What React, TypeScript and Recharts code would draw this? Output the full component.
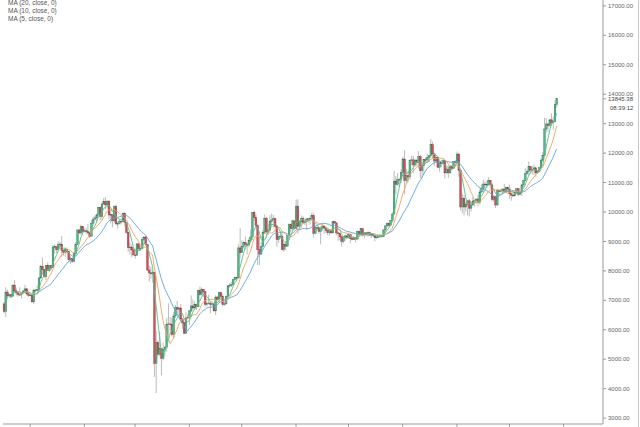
import { ComposedChart, Bar, Line, XAxis, YAxis, ReferenceLine } from 'recharts'

// daily candles, 17 Dec 2019 .. 28 Oct 2020
const startDay = Date.UTC(2019, 11, 17)
const slotCount = 343 // candles plus empty space on the right

const opens = [
  6880, 6620, 7280, 7150, 7190, 7140, 7520, 7320, 7250, 7200, 7200, 7250, 7320, 7390, 7220,
  7170, 7180, 6950, 7340, 7350, 7360, 7760, 8160, 8040, 7810, 8190, 8020, 8180, 8110, 8810, 8820, 8720, 8900, 8910, 8700, 8630, 8730, 8660, 8380, 8430, 8330, 8590, 8900, 9390, 9290, 9500,
  9340, 9380, 9330, 9290, 9180, 9620, 9760, 9800, 9900, 10160, 9850, 10270, 10350, 10240, 10370, 9900, 9910, 9700, 10180, 9600, 9610, 9690, 9670, 9960, 9650, 9310, 8790, 8810, 8710,
  8540, 8530, 8920, 8760, 8760, 9070, 9150, 8900, 8030, 7930, 7900, 7950, 4860, 5560, 5170, 5360, 5030, 5330, 5400, 6180, 6200, 6190, 5830, 6470, 6750, 6700, 6740, 6370, 6250, 5880, 6400,
  6420, 6640, 6810, 6740, 6860, 6780, 7330, 7200, 7370, 7290, 6860, 6890, 6910, 6860, 6880, 6640, 7110, 7040, 7260, 7130, 6860, 6880, 7130, 7490, 7510, 7540, 7700, 7780, 7760, 8780,
  8620, 8830, 8970, 8900, 8880, 9030, 9150, 9990, 9810, 9540, 8720, 8570, 8820, 9310, 9790, 9320, 9380, 9670, 9730, 9770, 9510, 9060, 9170, 9180, 8720, 8900, 8840, 9200, 9570, 9430, 9700,
  9450, 10200, 9520, 9670, 9790, 9630, 9670, 9760, 9780, 9770, 9880, 9280, 9470, 9470, 9340, 9430, 9520, 9460, 9380, 9300, 9360, 9290, 9680, 9630, 9290, 9260, 9160, 9000, 9120, 9190,
  9140, 9240, 9090, 9060, 9130, 9080, 9340, 9250, 9430, 9230, 9290, 9240, 9300, 9240, 9250, 9190, 9130, 9150, 9170, 9210, 9160, 9390, 9530, 9610, 9550, 9710, 9930, 11050, 10940, 11100, 11110,
  11350, 11800, 11070, 11230, 11190, 11740, 11770, 11600, 11760, 11680, 11880, 11400, 11570, 11780, 11770, 11860, 11910, 12290, 11970, 11730, 11860, 11520, 11680, 11650, 11750, 11330, 11460, 11330, 11540, 11480, 11710,
  11680, 11970, 11420, 10170, 10470, 10170, 10260, 10380, 10130, 10240, 10370, 10400, 10440, 10330, 10680, 10790, 10950, 10940, 10930, 11080, 10920, 10420, 10530, 10240, 10740, 10690, 10730, 10780, 10700, 10840,
  10780, 10620, 10570, 10550, 10670, 10790, 10600, 10670, 10920, 11060, 11300, 11380, 11540, 11430, 11430, 11500, 11330, 11370, 11510, 11760, 11920, 12820, 12990, 12940, 13130, 13040, 13070, 13650,
]

const highs = [
  6940, 7440, 7370, 7220, 7200, 7520, 7690, 7430, 7280, 7440, 7280, 7360, 7520, 7420, 7320,
  7250, 7210, 7400, 7390, 7500, 7800, 8210, 8450, 8050, 8200, 8290, 8200, 8190, 8880, 8900, 8840, 9000, 8980, 9190, 8740, 8780, 8800, 8670, 8520, 8440, 8600, 8980, 9400, 9430, 9570, 9510,
  9440, 9470, 9600, 9330, 9730, 9840, 9870, 9950, 10160, 10180, 10330, 10480, 10500, 10390, 10390, 10070, 9920, 10230, 10260, 9680, 9750, 9700, 9980, 9990, 9660, 9330, 8970, 8900, 8790,
  8750, 8950, 8930, 8840, 9150, 9180, 9190, 8900, 8180, 8150, 7990, 7970, 5950, 5640, 5940, 5370, 5560, 5450, 6390, 6900, 6440, 6400, 6600, 6840, 6980, 6790, 6870, 6380, 6260, 6600, 6520,
  6670, 7170, 7030, 6960, 6890, 7370, 7470, 7430, 7380, 7300, 6950, 7190, 6910, 6980, 6930, 7170, 7150, 7300, 7260, 7220, 6940, 7160, 7520, 7590, 7630, 7720, 7800, 7800, 8900, 9460,
  9050, 9000, 9170, 8950, 9110, 9400, 9990, 10050, 9920, 9580, 9170, 8970, 9380, 9920, 9840, 9590, 9890, 9950, 9900, 9810, 9560, 9270, 9310, 9300, 8960, 9010, 9220, 9620, 9600, 9740, 9700,
  10420, 10430, 9690, 9880, 9850, 9740, 9800, 9800, 9880, 9980, 9960, 9550, 9500, 9480, 9520, 9580, 9560, 9480, 9450, 9400, 9420, 9690, 9700, 9660, 9330, 9300, 9200, 9190, 9230, 9200,
  9300, 9270, 9130, 9180, 9150, 9370, 9360, 9460, 9440, 9310, 9310, 9340, 9340, 9290, 9270, 9210, 9190, 9190, 9240, 9220, 9420, 9540, 9650, 9640, 9730, 10000, 11400, 11220, 11330, 11170, 11450,
  11860, 12100, 11470, 11420, 11790, 11910, 11900, 11810, 11800, 12070, 11940, 11630, 11800, 11860, 11980, 11930, 12480, 12390, 12030, 11880, 11880, 11690, 11710, 11820, 11770, 11540, 11590, 11550, 11590, 11720, 11770,
  12050, 11980, 11470, 10620, 10570, 10350, 10400, 10440, 10350, 10490, 10410, 10470, 10580, 10800, 10940, 11100, 11040, 11050, 11180, 11080, 10990, 10570, 10540, 10790, 10760, 10780, 10800, 10950, 10860, 10850,
  10930, 10640, 10600, 10690, 10800, 10800, 10690, 10950, 11100, 11490, 11440, 11720, 11560, 11550, 11620, 11540, 11420, 11500, 11820, 12030, 13200, 13190, 13030, 13170, 13350, 13240, 13790, 13860,
]

const lows = [
  6560, 6430, 7040, 7080, 7090, 7120, 7260, 7160, 7120, 7150, 7060, 7240, 7290, 7170, 7120,
  7150, 6910, 6870, 7270, 7320, 7350, 7720, 7860, 7760, 7680, 8000, 7970, 8040, 8100, 8590, 8610, 8680, 8810, 8470, 8520, 8480, 8590, 8300, 8240, 8270, 8290, 8560, 8880, 9240, 9220, 9210,
  9310, 9250, 9230, 9110, 9170, 9540, 9720, 9660, 9870, 9720, 9740, 10250, 10100, 10120, 9750, 9610, 9480, 9610, 9550, 9430, 9580, 9570, 9660, 9510, 9270, 8640, 8550, 8460, 8530,
  8420, 8510, 8670, 8680, 8750, 9010, 8860, 8000, 7630, 7730, 7600, 4400, 3850, 5090, 5100, 4450, 4960, 5100, 5260, 5730, 5860, 5770, 5710, 6400, 6500, 6550, 6310, 6030, 5860, 5860, 6350,
  6160, 6600, 6680, 6680, 6680, 6780, 7150, 7160, 7120, 6790, 6790, 6860, 6560, 6800, 6620, 6500, 7000, 7030, 7060, 6790, 6810, 6850, 7040, 7430, 7450, 7480, 7660, 7650, 7730, 8430,
  8620, 8760, 8730, 8560, 8800, 8940, 9050, 9720, 9520, 8200, 8200, 8540, 8800, 9260, 9140, 9220, 9330, 9470, 9480, 9330, 8820, 8950, 9090, 8700, 8640, 8700, 8820, 9110, 9330, 9350, 9400,
  9420, 9260, 9380, 9460, 9590, 9560, 9380, 9640, 9570, 9690, 9130, 9240, 9380, 9260, 8900, 9370, 9260, 9300, 9220, 9200, 9260, 9280, 9590, 9210, 9020, 9050, 8830, 8940, 9020, 9070,
  9100, 8940, 9040, 9050, 8960, 9060, 9220, 9230, 9160, 9110, 9190, 9160, 9180, 9120, 9150, 9000, 9090, 9120, 9110, 9130, 9150, 9290, 9470, 9480, 9540, 9660, 9920, 10600, 10880, 10840, 10990,
  11230, 10600, 10940, 11010, 11100, 11580, 11330, 11530, 11560, 11480, 11150, 11150, 11280, 11630, 11720, 11700, 11850, 11810, 11570, 11680, 11500, 11370, 11520, 11600, 11130, 11280, 11150, 11290, 11430, 11460, 11580,
  11660, 11200, 10050, 9960, 9880, 10020, 9880, 9850, 10010, 10200, 10190, 10330, 10200, 10260, 10640, 10680, 10760, 10820, 10890, 10780, 10360, 10350, 10140, 10200, 10550, 10660, 10620, 10650, 10650, 10690,
  10450, 10380, 10520, 10530, 10610, 10540, 10580, 10540, 10830, 11040, 11260, 11230, 11300, 11270, 11260, 11200, 11300, 11350, 11420, 11700, 11900, 12700, 12730, 12880, 12920, 12800, 13050, 13550,
]

const closes = [
  6620, 7280, 7150, 7190, 7140, 7520, 7320, 7250, 7200, 7200, 7250, 7320, 7390, 7220, 7170,
  7180, 6950, 7340, 7350, 7360, 7760, 8160, 8040, 7810, 8190, 8020, 8180, 8110, 8810, 8820, 8720, 8900, 8910, 8700, 8630, 8730, 8660, 8380, 8430, 8330, 8590, 8900, 9390, 9290, 9500, 9340,
  9380, 9330, 9290, 9180, 9620, 9760, 9800, 9900, 10160, 9850, 10270, 10350, 10240, 10370, 9900, 9910, 9700, 10180, 9600, 9610, 9690, 9670, 9960, 9650, 9310, 8790, 8810, 8710, 8540,
  8530, 8920, 8760, 8760, 9070, 9150, 8900, 8030, 7930, 7900, 7950, 4860, 5560, 5170, 5360, 5030, 5330, 5400, 6180, 6200, 6190, 5830, 6470, 6750, 6700, 6740, 6370, 6250, 5880, 6400, 6420,
  6640, 6810, 6740, 6860, 6780, 7330, 7200, 7370, 7290, 6860, 6890, 6910, 6860, 6880, 6640, 7110, 7040, 7260, 7130, 6860, 6880, 7130, 7490, 7510, 7540, 7700, 7780, 7760, 8780, 8620,
  8830, 8970, 8900, 8880, 9030, 9150, 9990, 9810, 9540, 8720, 8570, 8820, 9310, 9790, 9320, 9380, 9670, 9730, 9770, 9510, 9060, 9170, 9180, 8720, 8900, 8840, 9200, 9570, 9430, 9700, 9450,
  10200, 9520, 9670, 9790, 9630, 9670, 9760, 9780, 9770, 9880, 9280, 9470, 9470, 9340, 9430, 9520, 9460, 9380, 9300, 9360, 9290, 9680, 9630, 9290, 9260, 9160, 9000, 9120, 9190, 9140,
  9240, 9090, 9060, 9130, 9080, 9340, 9250, 9430, 9230, 9290, 9240, 9300, 9240, 9250, 9190, 9130, 9150, 9170, 9210, 9160, 9390, 9530, 9610, 9550, 9710, 9930, 11050, 10940, 11100, 11110, 11350,
  11800, 11070, 11230, 11190, 11740, 11770, 11600, 11760, 11680, 11880, 11400, 11570, 11780, 11770, 11860, 11910, 12290, 11970, 11730, 11860, 11520, 11680, 11650, 11750, 11330, 11460, 11330, 11540, 11480, 11710, 11680,
  11970, 11420, 10170, 10470, 10170, 10260, 10380, 10130, 10240, 10370, 10400, 10440, 10330, 10680, 10790, 10950, 10940, 10930, 11080, 10920, 10420, 10530, 10240, 10740, 10690, 10730, 10780, 10700, 10840, 10780,
  10620, 10570, 10550, 10670, 10790, 10600, 10670, 10920, 11060, 11300, 11380, 11540, 11430, 11430, 11500, 11330, 11370, 11510, 11760, 11920, 12820, 12990, 12940, 13130, 13040, 13070, 13650, 13845.38,
]

const yTicks = [3000, 4000, 5000, 6000, 7000, 8000, 9000, 10000, 11000, 12000, 13000, 14000, 15000, 16000, 17000]
const lastPrice = 13845.38
const countdown = '08:39:12'
const maLegend = ['MA (20, close, 0)', 'MA (10, close, 0)', 'MA (5, close, 0)']

const upColor = '#4dba87'
const downColor = '#e2475a'
const wickColor = '#8d8d8d'
const ma5Color = '#52c28c'
const ma10Color = '#f2a15a'
const ma20Color = '#5fa3dc'
const axisColor = '#9a9a9a'
const font = '"Liberation Sans", Arial, sans-serif'

function sma(values: number[], n: number, i: number) {
  if (i < n - 1) return null
  let s = 0
  for (let k = i - n + 1; k <= i; k++) s += values[k]
  return s / n
}

function dayLabel(i: number) {
  return new Date(startDay + i * 86400000).toISOString().slice(0, 10)
}

const data = Array.from({ length: slotCount }, (_, i) => {
  const date = dayLabel(i)
  if (i >= closes.length) return { date }
  return {
    date,
    o: opens[i],
    h: highs[i],
    l: lows[i],
    c: closes[i],
    range: [lows[i], highs[i]],
    ma5: sma(closes, 5, i),
    ma10: sma(closes, 10, i),
    ma20: sma(closes, 20, i),
  }
})

const monthTicks = data.map((d) => d.date).filter((d) => d.endsWith('-01'))

function Candle(props: any) {
  const { x, width, payload } = props
  let { y, height } = props
  if (!payload || payload.h == null) return null
  if (height < 0) {
    y += height
    height = -height
  }
  const { o, h, l, c } = payload
  const per = h - l > 0 ? height / (h - l) : 0
  const yO = y + (h - o) * per
  const yC = y + (h - c) * per
  const up = c >= o
  const cx = x + width / 2
  const bw = 1.7
  const top = Math.min(yO, yC)
  const bh = Math.max(Math.abs(yC - yO), 0.8)
  return (
    <g>
      <line x1={cx} x2={cx} y1={y} y2={y + height} stroke={wickColor} strokeWidth={0.6} />
      <rect x={cx - bw / 2} y={top} width={bw} height={bh} fill={up ? upColor : downColor}
        stroke={up ? '#3b6e58' : '#7e3a36'} strokeWidth={0.4} />
    </g>
  )
}

function PriceTag(props: any) {
  const vb = props.viewBox
  if (!vb) return null
  const x0 = vb.x + vb.width
  const y0 = vb.y
  return (
    <g>
      <rect x={x0 + 1} y={y0 - 4} width={36} height={17} fill="#fff" />
      <line x1={x0} x2={x0 + 3} y1={y0} y2={y0} stroke={axisColor} strokeWidth={1} />
      <text x={x0 + 5} y={y0} dy="0.35em" fontSize={6} fill="#444" fontFamily={font}>
        {lastPrice.toFixed(2)}
      </text>
      <text x={x0 + 7} y={y0 + 9.5} dy="0.35em" fontSize={6} fill="#444" fontFamily={font}>
        {countdown}
      </text>
    </g>
  )
}

export default function App() {
  return (
    <div style={{ position: 'absolute', left: 0, top: 0, width: 640, height: 427, background: '#fff' }}>
      <ComposedChart width={640} height={427} data={data} barCategoryGap={0}
        margin={{ top: 0, right: 0, bottom: 0, left: 3 }}>
        <XAxis dataKey="date" ticks={monthTicks} interval={0} height={3} tickSize={3}
          tickFormatter={() => ''} stroke={axisColor} />
        <YAxis yAxisId="left" orientation="left" width={0} tick={false} tickLine={false} stroke={axisColor} />
        <YAxis orientation="right" width={37} domain={[2800, 17200]} ticks={yTicks} interval={0}
          tickSize={3} tickMargin={2} stroke={axisColor}
          tick={{ fontSize: 6, fill: '#666', fontFamily: font }}
          tickFormatter={(v: number) => v.toFixed(2)} />
        <Bar dataKey="range" shape={<Candle />} isAnimationActive={false} />
        <Line dataKey="ma20" stroke={ma20Color} strokeWidth={0.9} dot={false} isAnimationActive={false} />
        <Line dataKey="ma10" stroke={ma10Color} strokeWidth={0.9} dot={false} isAnimationActive={false} />
        <Line dataKey="ma5" stroke={ma5Color} strokeWidth={0.9} dot={false} isAnimationActive={false} />
        <ReferenceLine y={lastPrice} strokeOpacity={0} label={<PriceTag />} />
      </ComposedChart>
      <svg width={200} height={30} style={{ position: 'absolute', left: 0, top: 0 }}>
        {maLegend.map((t, i) => (
          <text key={t} x={8} y={3 + i * 8} dy="0.35em" fontSize={6.5} fill="#555" fontFamily={font}>{t}</text>
        ))}
      </svg>
      <div style={{ position: 'absolute', left: 638, top: 0, width: 1, height: 427, background: '#c8c8c8' }} />
    </div>
  )
}
